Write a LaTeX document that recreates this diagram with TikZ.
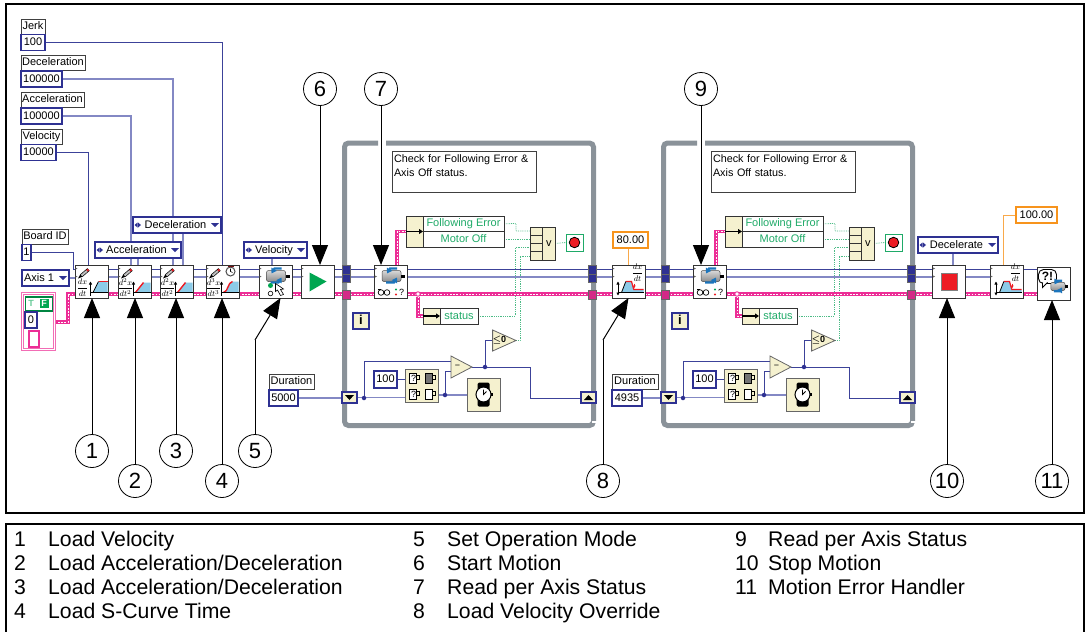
\documentclass[tikz,border=0pt]{standalone}
\usepackage{fontspec}
\setmainfont{Liberation Sans}
\usetikzlibrary{arrows.meta,shapes.geometric,backgrounds}

\definecolor{ringblue}{HTML}{2E3192}
\definecolor{wiredark}{HTML}{3C4299}
\definecolor{wirelight}{HTML}{8388C4}
\definecolor{wirepink}{HTML}{EC2E96}
\definecolor{tan}{HTML}{F5F1CF}
\definecolor{dotgreen}{HTML}{1FAA68}
\definecolor{termorange}{HTML}{F7941D}
\definecolor{loopgrey}{HTML}{8A9299}
\definecolor{plotblue}{HTML}{8CCBE8}
\definecolor{stopred}{HTML}{ED1C24}
\definecolor{motorblue}{HTML}{1C75BC}
\definecolor{runTgreen}{HTML}{00A651}

\tikzset{
    diag/.style={font=\fontsize{11}{13}\selectfont, inner sep=0pt, outer sep=0pt, text height=8.5pt, text depth=2.5pt},
    tag/.style={diag, draw=black!75, fill=white, line width=0.8pt, minimum height=15pt, anchor=north west},
    numbox/.style={diag, draw=ringblue, fill=white, line width=1.6pt, minimum height=16pt, anchor=north west},
    orangebox/.style={numbox, draw=termorange},
    pulldown/.style={numbox, path picture={
        \fill[ringblue] ([xshift=-10pt,yshift=2pt]path picture bounding box.east) -- ++(8pt,0) -- ++(-4pt,-4pt) -- cycle;}},
    ringbox/.style={numbox, execute at begin node={\hspace*{-3pt}}, path picture={
        \fill[ringblue] ([xshift=-10pt,yshift=2pt]path picture bounding box.east) -- ++(8pt,0) -- ++(-4pt,-4pt) -- cycle;
        \fill[ringblue] ([xshift=1.5pt]path picture bounding box.west) -- ++(3pt,2.5pt) -- ++(0,-5pt) -- cycle;
        \fill[ringblue] ([xshift=8pt]path picture bounding box.west) -- ++(-3pt,2.5pt) -- ++(0,-5pt) -- cycle;}},
    vibox/.style={draw=black!80, fill=white, line width=0.8pt, minimum size=33pt, inner sep=0pt, outer sep=0pt},
    tanbox/.style={draw=black!60, fill=tan, line width=0.8pt, inner sep=0pt, outer sep=0pt},
    greenrow/.style={diag, draw=black!80, fill=white, line width=0.8pt, text=dotgreen, anchor=north west},
    cmpbox/.style={tanbox, isosceles triangle, isosceles triangle stretches, anchor=apex},
    tunnel/.style={draw=black!60, fill=ringblue, line width=0.5pt, minimum width=8pt, minimum height=8.5pt, inner sep=0pt, outer sep=0pt},
    pinktunnel/.style={tunnel, fill=wirepink!90!black, minimum height=9.5pt},
    bluewire/.style={draw=wiredark, line width=1pt},
    palewire/.style={draw=wirelight, line width=1.1pt},
    pinkwire/.style={draw=white, line width=0.7pt, dash pattern=on 1.6pt off 1.6pt, preaction={draw=wirepink, line width=3.6pt, solid}},
    boolwire/.style={draw=dotgreen!80, line width=0.8pt, densely dotted},
    orangewire/.style={draw=termorange!80, line width=1pt},
    joint/.style={circle, fill=ringblue, minimum size=4.5pt, inner sep=0pt},
    loopframe/.style={draw=loopgrey, line width=5pt, rounded corners=4pt},
    callnum/.style={circle, draw=black, fill=white, line width=0.8pt, minimum size=33pt, inner sep=0pt, font=\fontsize{22}{24}\selectfont},
    callout/.style={draw=black, line width=1pt, -{Triangle[length=20pt,width=16pt]}},
    legend/.style={anchor=base west, inner sep=0pt, font=\fontsize{21.2}{24}\selectfont},
    ddt/.style={inner sep=0pt, font=\fontsize{8}{8}\selectfont},
    pics/termmarks/.style={code={
        \fill[black!60] (-16,-14) -- (-14,-13) -- (-16,-12) -- cycle;
        \fill[black!60] (-16,-6) -- (-14,-5) -- (-16,-4) -- cycle;
    }},
    pics/pencil/.style={code={
        \fill[black] (-13.5,-3) -- (-11,-7.5) -- (-8.5,-5) -- cycle;
        \draw[line width=3.4pt, black] (-10,-6) -- (-3,-12);
        \draw[line width=2pt, black!25] (-10,-6) -- (-4.5,-10.7);
        \draw[line width=2pt, stopred] (-4.5,-10.7) -- (-3,-12);
    }},
    pics/velplot/.style={code={
        \fill[plotblue] (1.5,11) -- (7,0) -- (16,0) -- (16,11) -- cycle;
        \draw[black, line width=0.8pt] (1.5,11) -- (7,0);
        \draw[stopred, line width=1.6pt] (7,0) -- (16,0);
        \draw[black, line width=0.7pt] (-1,11) -- (16,11);
        \draw[black, line width=0.8pt, -{Triangle[length=3pt,width=3pt]}] (-1,14) -- (-1,0);
        \node (dv) at (-9,6)[ddt] {$\displaystyle\frac{dx}{dt}$};
    }},
    pics/accplot/.style={code={
        \fill[plotblue] (1,11) -- (9,1) -- (16,1) -- (16,11) -- cycle;
        \draw[stopred, line width=1.4pt] (1,11) -- (9,1);
        \draw[black, line width=0.7pt] (-1,11) -- (16,11);
        \draw[black, line width=0.8pt, -{Triangle[length=3pt,width=3pt]}] (-1,14) -- (-1,0);
        \node (da) at (-9,6)[ddt] {$\displaystyle\frac{d^2x}{dt^2}$};
    }},
    pics/jerkplot/.style={code={
        \fill[plotblue] (1,11) .. controls (6,10) and (5,1) .. (10,0) -- (16,0) -- (16,11) -- cycle;
        \draw[stopred, line width=1.4pt] (1,11) .. controls (6,10) and (5,1) .. (10,0);
        \draw[black, line width=0.7pt] (-1,11) -- (16,11);
        \draw[black, line width=0.8pt, -{Triangle[length=3pt,width=3pt]}] (-1,14) -- (-1,0);
        \node (dj) at (-9,6)[ddt] {$\displaystyle\frac{d^3x}{dt^3}$};
        \draw[draw=black!70, fill=white, line width=1pt] (8,-10) circle (4.5pt);
        \draw[line width=0.6pt] (8,-13) -- (8,-10) -- (10,-9);
        \fill[stopred!50!black] (5,-15.5) rectangle (11,-14.5);
    }},
    pics/overplot/.style={code={
        \fill[plotblue] (-7,11) -- (-2.7,0) -- (3,0) -- (5.3,8.7) -- (15,8.7) -- (15,11) -- cycle;
        \draw[stopred, line width=1.2pt] (-2.7,0) -- (3,0) -- (5.3,8) -- (15,8);
        \draw[black, line width=0.8pt] (-7,11) -- (-2.7,0);
        \draw[black, line width=0.7pt] (-10,11) -- (15,11);
        \draw[black, line width=0.8pt, {Triangle[length=3pt,width=3pt]}-{Triangle[length=3pt,width=3pt]}] (-10.5,14) -- (-10.5,0);
        \draw[stopred, line width=0.8pt, -{Triangle[length=2.5pt,width=3pt]}] (5.7,2) -- (5.7,6.5);
        \node (do) at (9,-9)[ddt] {$\displaystyle\frac{dx}{dt}$};
    }},
    pics/motor/.style={code={
        \draw[black!70, line width=0.5pt, top color=black!15, bottom color=black!45, rounded corners=2pt] (-9,-11) rectangle (10,0);
        \fill[black] (10,-7) rectangle (14,-4);
        \draw[motorblue, line width=2.2pt, -{Triangle[length=5pt,width=6pt]}] (6,-13) -- (-1,-13) -- (-4,-8);
        \draw[motorblue, line width=2.2pt, -{Triangle[length=5pt,width=6pt]}] (-5,1) -- (3,1) -- (6,-4);
    }},
    pics/modemark/.style={code={
        \fill[runTgreen] (-5,4) circle (2.5pt);
        \draw[black, line width=0.6pt] (-5,12) circle (2.3pt);
        \draw[fill=white, line width=0.6pt] (0,2) -- (0,10) -- (2,8.5) -- (5,14) -- (8,13) -- (5,8) -- (8,7.5) -- cycle;
    }},
    pics/glasses/.style={code={
        \draw[black, line width=0.7pt] (-10,11) circle (2.8pt) (-4,11) circle (2.8pt);
        \draw[black, line width=0.7pt] (-13,8) -- (-10,8) (-7,11) -- (-7,10);
        \fill[runTgreen] (5,8) circle (1.1pt);
        \fill[stopred] (5,13) circle (1.1pt);
        \node (qm) at (10.5,11)[inner sep=0pt, font=\fontsize{9}{9}\selectfont] {?};
    }},
    pics/balloon/.style={code={
        \draw[black, fill=white, line width=0.9pt, rounded corners=5pt] (-15,-14) rectangle (3,0);
        \draw[black, fill=white, line width=0.9pt] (-11,-1) -- (-11,4) -- (-6,-1);
        \node (eq) at (-6,-7)[inner sep=0pt, font=\bfseries\fontsize{12}{12}\selectfont] {?!};
    }},
    pics/countmugs/.style={code={
        \foreach \mx/\my/\mcol in {-8/-8/white, 8/-8/black!55, -8/8/white, 8/8/white} {
            \draw[black, fill=\mcol, line width=0.6pt] (\mx-4,\my-5) rectangle (\mx+3,\my+5);
            \draw[black, line width=0.6pt] (\mx+3,\my-3) -- (\mx+6,\my-3) -- (\mx+6,\my+1) -- (\mx+3,\my+1);
        }
        \node (qa) at (-8,-8)[inner sep=0pt, font=\fontsize{9}{9}\selectfont] {?};
        \node (qb) at (-8,8)[inner sep=0pt, font=\fontsize{9}{9}\selectfont] {?};
    }},
    pics/wristwatch/.style={code={
        \fill[black, rounded corners=1.5pt] (-6,-12) rectangle (6,12);
        \draw[black, fill=white, line width=1pt] (0,0) circle (7.5pt);
        \draw[black, line width=0.8pt] (0,-5) -- (0,0) -- (3,-3);
        \fill[black] (7,-1.5) rectangle (9,1.5);
    }},
}

\newcommand{\whilepanel}[2]{
    \begin{scope}[xshift=#2pt]
        \draw[loopframe] (386,143) -| (593.5,425.5) -| (344.5,143) -- (378,143);
        \fill[white] (591.5,420.5) rectangle (596.5,422.5);

        \node (#1note) at (392,151)[tag, minimum width=144pt, minimum height=41pt, text width=140pt, inner xsep=1.5pt, inner ysep=1pt, align=left, text height=, text depth=, font=\fontsize{10.8}{14}\selectfont] {Check for Following Error \&\\Axis Off status.\\[-3pt]\rule{0pt}{1pt}};

        \node (#1sl) at (346.5,269.5)[tunnel] {};
        \node (#1sm) at (346.5,278)[tunnel] {};
        \node (#1sp) at (346.5,294.5)[pinktunnel] {};
        \node (#1el) at (592,269.5)[tunnel] {};
        \node (#1em) at (592,278)[tunnel] {};
        \node (#1ep) at (592,294.5)[pinktunnel] {};

        \node (#1read) at (391,281.5)[vibox] {};
        \pic at (#1read.center) {motor};
        \pic at (#1read.center) {glasses};
        \pic at (#1read.center) {termmarks};

        \node (#1bun) at (406,216)[tanbox, minimum width=17pt, minimum height=31pt, draw=black!80, anchor=north west] {};
        \node (#1fe) at (423,216)[greenrow, minimum width=81pt, minimum height=15.5pt] {Following Error};
        \node (#1mo) at (423,231.5)[greenrow, minimum width=81pt, minimum height=15.5pt] {Motor Off};
        \draw[black, line width=1.2pt, -{Triangle[length=4pt,width=5pt]}] (#1bun.west) -- (#1bun.east);

        \node (#1or) at (530,227)[tanbox, minimum width=25pt, minimum height=33pt, anchor=north west, draw=black!80] {};
        \draw[black!80, line width=0.7pt] (542.5,227) -- (542.5,260) (530,235.25) -- (542.5,235.25) (530,243.5) -- (542.5,243.5) (530,251.75) -- (542.5,251.75);
        \node (#1orv) at (548.75,243.5)[diag] {v};
        \node (#1stop) at (566,234)[draw=dotgreen, fill=white, line width=1pt, minimum size=17pt, inner sep=0pt, outer sep=0pt, anchor=north west] {};
        \node (#1lamp) at (#1stop.center)[circle, draw=black, fill=stopred, line width=0.8pt, minimum size=10.5pt, inner sep=0pt] {};

        \node (#1tag) at (423,308)[tanbox, minimum width=17pt, minimum height=16pt, anchor=north west, draw=black!80] {};
        \node (#1status) at (440,308)[greenrow, minimum width=38pt, minimum height=16pt] {status};
        \draw[black, line width=1.2pt, -{Triangle[length=4pt,width=5pt]}] (#1tag.west) -- (#1tag.east);

        \node (#1iter) at (353,313)[numbox, fill=tan, minimum size=16pt, font=\bfseries\fontsize{13}{13}\selectfont] {i};

        \node (#1zero) at (516,340.5)[cmpbox, minimum width=21pt, minimum height=23pt, font=\bfseries\boldmath\fontsize{9}{9}\selectfont] {$\leq$0};
        \node (#1sub) at (472,367)[cmpbox, minimum width=22pt, minimum height=21pt] {\fontsize{9}{9}\selectfont\textminus};

        \node (#1hund) at (374,371)[numbox, minimum width=23pt, minimum height=17pt] {100};
        \node (#1tick) at (421.5,386)[tanbox, minimum size=33pt] {};
        \pic at (#1tick.center) {countmugs};
        \node (#1wat) at (483.5,394.5)[tanbox, minimum size=33pt] {};
        \pic at (#1wat.center) {wristwatch};

        \node (#1shl) at (342,392)[numbox, fill=tan, minimum width=15pt, minimum height=11pt] {};
        \fill[black] (345,395) -- (354,395) -- (349.5,400) -- cycle;
        \node (#1shr) at (581,392)[numbox, fill=tan, minimum width=15pt, minimum height=11pt] {};
        \fill[black] (584,400) -- (593,400) -- (588.5,395) -- cycle;

        \coordinate (#1lf) at (364,398);
        \coordinate (#1lt) at (445,395);
        \coordinate (#1lk) at (485,367);
        \node (#1j1) at (#1lf)[joint] {};
        \node (#1j2) at (#1lt)[joint] {};
        \node (#1j3) at (#1lk)[joint] {};
        \node (#1j4) at (418,294)[circle, draw=wirepink, fill=white, line width=0.9pt, minimum size=4.5pt, inner sep=0pt] {};

        \begin{pgfonlayer}{background}
            \draw[pinkwire] ([xshift=6pt]#1read.north) |- ([yshift=0pt]#1bun.west);
            \draw[pinkwire] (#1j4) |- (#1tag.west);
            \draw[boolwire] (#1fe.east) -- (516,223.5) -- (516,231) -- (530,231);
            \draw[boolwire] (#1mo.east) -- (530,239.25);
            \draw[boolwire] (#1status.east) -- (515,316) -- (515,247.5) -- (530,247.5);
            \draw[boolwire] (#1zero.apex) -- (520,340.5) -- (520,256) -- (530,256);
            \draw[boolwire] (#1or.east) -- (#1stop.west);
            \draw[palewire] (#1shl.east) -- (#1tick.west |- #1shl.east);
            \draw[bluewire] (#1lf) |- ([yshift=6pt]#1sub.lower side);
            \draw[bluewire] (#1hund.east) -- (#1tick.west |- #1hund.east);
            \draw[palewire] (#1tick.east |- #1lt) -- (#1wat.west |- #1lt);
            \draw[bluewire] (#1lt) |- ([yshift=-4pt]#1sub.lower side);
            \draw[bluewire] (#1sub.apex) -- (530,367) -- (530,398) -- (#1shr.west |- 0,398);
            \draw[bluewire] (#1lk) |- (#1zero.lower side);
        \end{pgfonlayer}
    \end{scope}
}

\begin{document}
\begin{tikzpicture}[x=1pt, y=-1pt]
    \useasboundingbox (0,0) rectangle (1085,632);

    \draw[black, line width=2.6pt] (6,4) rectangle (1084,513);
    \draw[black, line width=1.6pt] (6,632) -- (6,524) (1084,524) -- (1084,632);
    \draw[black, line width=2.6pt] (5,524) -- (1085,524);

    \node (jerk) at (21,19)[tag, minimum width=24pt] {Jerk};
    \node (jerkval) at (21,34.5)[numbox, minimum width=24pt] {100};
    \node (dec) at (21,55)[tag, minimum width=64pt] {Deceleration};
    \node (decval) at (21,71)[numbox, minimum width=41pt] {100000};
    \node (acc) at (21,92)[tag, minimum width=63pt] {Acceleration};
    \node (accval) at (21,108)[numbox, minimum width=41pt] {100000};
    \node (vel) at (21,129)[tag, minimum width=41pt] {Velocity};
    \node (velval) at (21,144.5)[numbox, minimum width=35pt] {10000};

    \node (board) at (22,229)[tag, minimum width=46pt] {Board ID};
    \node (boardval) at (22,244.5)[numbox, minimum width=9pt] {1};
    \node (axis) at (22,270)[pulldown, minimum width=47pt] {\hspace*{-13pt}Axis 1};

    \node (clus) at (22,293)[draw=wirepink!70, fill=white, double=white, double distance=0.6pt, line width=0.8pt, minimum width=32pt, minimum height=56pt, anchor=north west] {};
    \node (tf) at (24.5,296)[draw=runTgreen!80!black, fill=white, line width=1.6pt, minimum width=27pt, minimum height=14pt, inner sep=0pt, anchor=north west] {};
    \node (tft) at (31,303)[text=runTgreen!60, inner sep=0pt, font=\bfseries\fontsize{9}{9}\selectfont] {T};
    \node (tff) at (44,303)[fill=runTgreen, text=white, minimum size=9pt, inner sep=0pt, font=\bfseries\fontsize{9}{9}\selectfont] {F};
    \node (zero) at (25,312)[numbox, minimum width=12pt] {0};
    \node (pinkin) at (27.5,329.5)[draw=wirepink, fill=white, line width=2.4pt, minimum width=10.5pt, minimum height=16pt, inner sep=0pt, anchor=north west] {};

    \node (decring) at (133,217)[ringbox, minimum width=88pt] {Deceleration};
    \node (accring) at (95,242)[ringbox, minimum width=86pt] {Acceleration};
    \node (velring) at (244,242)[ringbox, minimum width=63pt] {Velocity};
    \node (decel) at (918,237)[ringbox, minimum width=80pt] {Decelerate};

    \node (v1) at (91.5,281.5)[vibox] {};
    \pic at (v1.center) {termmarks};
    \pic at (v1.center) {pencil};
    \pic at (v1.center) {velplot};
    \node (v2) at (134.5,281.5)[vibox] {};
    \pic at (v2.center) {termmarks};
    \pic at (v2.center) {pencil};
    \pic at (v2.center) {accplot};
    \node (v3) at (176.5,281.5)[vibox] {};
    \pic at (v3.center) {termmarks};
    \pic at (v3.center) {pencil};
    \pic at (v3.center) {accplot};
    \node (v4) at (222.5,281.5)[vibox] {};
    \pic at (v4.center) {termmarks};
    \pic at (v4.center) {pencil};
    \pic at (v4.center) {jerkplot};
    \node (v5) at (275.5,281.5)[vibox] {};
    \pic at (v5.center) {termmarks};
    \pic at (v5.center) {motor};
    \pic at (v5.center) {modemark};
    \node (v6) at (317.5,281.5)[vibox] {};
    \pic at (v6.center) {termmarks};
    \fill[runTgreen] (309.5,272.5) -- (326.5,281.5) -- (309.5,291.5) -- cycle;

    \whilepanel{a}{0}
    \whilepanel{b}{319}

    \node (v8) at (628.5,281.5)[vibox] {};
    \pic at (v8.center) {termmarks};
    \pic at (v8.center) {overplot};
    \node (ovr) at (613,232)[orangebox, minimum width=35pt] {80.00};
    \node (dura) at (269,374)[tag, minimum width=45pt] {Duration};
    \node (duraval) at (269,390)[numbox, minimum width=29pt] {5000};
    \node (durb) at (612,374)[tag, minimum width=46pt] {Duration};
    \node (durbval) at (612,390)[numbox, minimum width=30pt] {4935};

    \node (v10) at (949,281.5)[vibox] {};
    \pic at (v10.center) {termmarks};
    \fill[stopred, draw=black!50, line width=0.6pt] (941,273.5) rectangle (957.5,290.5);
    \node (v11) at (1006.5,281.5)[vibox] {};
    \pic at (v11.center) {termmarks};
    \pic at (v11.center) {overplot};
    \node (ovrb) at (1016,207)[orangebox, minimum width=41pt] {100.00};
    \node (v12) at (1053.5,283.5)[vibox] {};
    \pic at (v12.center) {balloon};
    \pic[scale=0.75] at ([xshift=4pt,yshift=-7pt]v12.center) {motor};

    \coordinate (topbus) at (0,269.5);
    \coordinate (lowbus) at (0,277);
    \coordinate (pinkbus) at (0,294);

    \begin{pgfonlayer}{background}
        \draw[bluewire] (jerkval.east) -| (v4.north);
        \draw[palewire] (decval.east) -| (decring.north -| 173,0);
        \draw[palewire] (accval.east) -| (131,265);
        \draw[bluewire] (velval.east) -| (88,265);
        \draw[palewire] (138,258) -- (138,265);
        \draw[palewire] (173,233) -- (173,265);
        \draw[palewire] (183,233) -- (183,265);
        \draw[palewire] (velring.south -| 272,0) -- (272,265);
        \draw[palewire] (decel.south -| 953,0) -- (953,265);
        \draw[bluewire] (boardval.east) -| (73,269.5) -- (v1.west |- topbus);
        \draw[palewire] (axis.east) -- (v1.west |- axis.east);
        \draw[bluewire] (v1 |- topbus) -- (v12 |- topbus);
        \draw[palewire] (v1 |- lowbus) -- (v11 |- lowbus);
        \draw[pinkwire] (clus.east |- 0,322) -- (68,322) -- (68,294) -- (v1.west |- pinkbus);
        \draw[pinkwire] (v1 |- pinkbus) -- (v12 |- pinkbus);
        \draw[orangewire] (ovr.south -| v8) -- (v8.north);
        \draw[orangewire] (ovrb.west) -| (1003,265);
        \draw[palewire] (duraval.east) -- (ashl.west |- duraval.east);
        \draw[palewire] (durbval.east) -- (bshl.west |- durbval.east);
    \end{pgfonlayer}

    \node (1) at (92,451)[callnum] {1};
    \node (2) at (135,481)[callnum] {2};
    \node (3) at (176,451)[callnum] {3};
    \node (4) at (222,481)[callnum] {4};
    \node (5) at (255,451)[callnum] {5};
    \node (6) at (320,89)[callnum] {6};
    \node (7) at (381,89)[callnum] {7};
    \node (8) at (603,481)[callnum] {8};
    \node (9) at (701,89)[callnum] {9};
    \node (10) at (947,481)[callnum] {10};
    \node (11) at (1052,481)[callnum] {11};
    \coordinate (bend5) at (255,340);
    \coordinate (bend8) at (603,340);

    \draw[callout] (1) -- (1 |- v1.south);
    \draw[callout] (2) -- (2 |- v2.south);
    \draw[callout] (3) -- (3 |- v3.south);
    \draw[callout] (4) -- (4 |- v4.south);
    \draw[draw=black, line width=1pt] (5) -- (bend5);
    \draw[callout] (bend5) -- ([xshift=5pt]v5.south);
    \draw[callout] (6) -- (6 |- v6.north);
    \draw[callout] (7) -- (7 |- aread.north);
    \draw[draw=black, line width=1pt] (8) -- (bend8);
    \draw[callout] (bend8) -- (v8.south);
    \draw[callout] (9) -- (9 |- bread.north);
    \draw[callout] (10) -- (10 |- v10.south);
    \draw[callout] (11) -- (11 |- v12.south);

    \node (n1) at (14,546)[legend] {1};
    \node (t1) at (48,546)[legend] {Load Velocity};
    \node (n2) at (14,570)[legend] {2};
    \node (t2) at (48,570)[legend] {Load Acceleration/Deceleration};
    \node (n3) at (14,594)[legend] {3};
    \node (t3) at (48,594)[legend] {Load Acceleration/Deceleration};
    \node (n4) at (14,618)[legend] {4};
    \node (t4) at (48,618)[legend] {Load S-Curve Time};
    \node (n5) at (413,546)[legend] {5};
    \node (t5) at (447,546)[legend] {Set Operation Mode};
    \node (n6) at (413,570)[legend] {6};
    \node (t6) at (447,570)[legend] {Start Motion};
    \node (n7) at (413,594)[legend] {7};
    \node (t7) at (447,594)[legend] {Read per Axis Status};
    \node (n8) at (413,618)[legend] {8};
    \node (t8) at (447,618)[legend] {Load Velocity Override};
    \node (n9) at (735,546)[legend] {9};
    \node (t9) at (768,546)[legend] {Read per Axis Status};
    \node (n10) at (735,570)[legend] {10};
    \node (t10) at (768,570)[legend] {Stop Motion};
    \node (n11) at (735,594)[legend] {11};
    \node (t11) at (768,594)[legend] {Motion Error Handler};
\end{tikzpicture}
\end{document}
